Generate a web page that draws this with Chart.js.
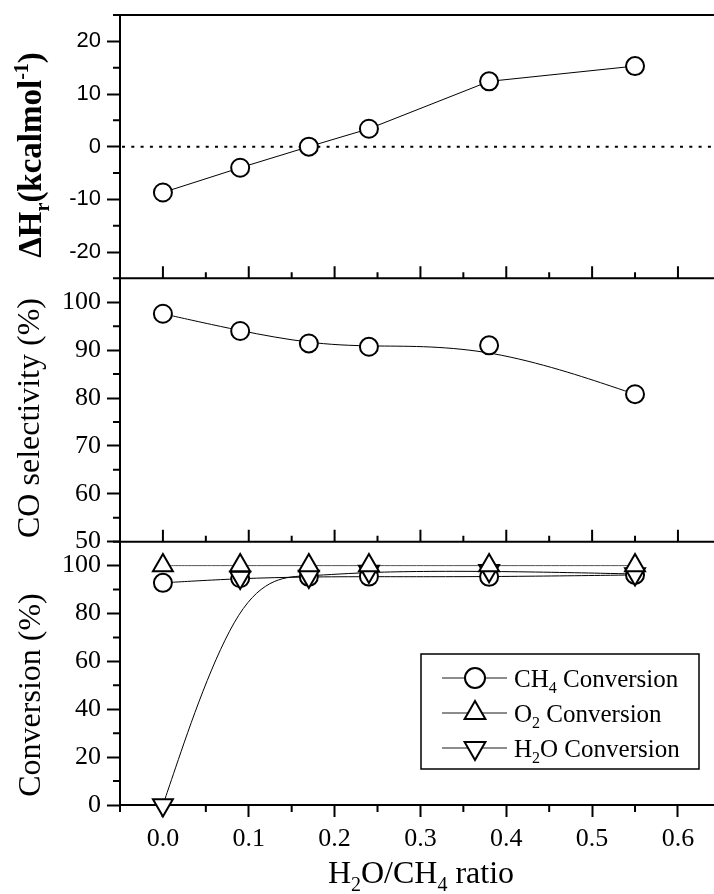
<!DOCTYPE html>
<html>
<head>
<meta charset="utf-8">
<script src="https://cdn.jsdelivr.net/npm/chart.js@4.4.1/dist/chart.umd.min.js"></script>
<style>
  html, body { margin: 0; padding: 0; background: #fff; overflow: hidden; }
</style>
</head>
<body>
<canvas id="myChart" width="714" height="894"></canvas>
<script>
// H2O/CH4 feed ratio
const ratios = [0.0, 0.09, 0.17, 0.24, 0.38, 0.55]

// reaction enthalpy (kcal/mol)
const deltaH = [-8.7, -4.0, 0.0, 3.4, 12.4, 15.3]
// CO selectivity (%)
const coSelectivity = [97.6, 94.0, 91.4, 90.7, 91.0, 80.8]
// conversions (%)
const ch4Conversion = [92.8, 94.7, 95.3, 95.4, 95.3, 96.1]
const o2Conversion = [100, 100, 100, 100, 100, 100]
const h2oConversion = [0, 95.0, 95.5, 97.5, 97.8, 96.5]

// tick labels
const ratioTicks = [0.0, 0.1, 0.2, 0.3, 0.4, 0.5, 0.6]
const deltaHTicks = [-20, -10, 0, 10, 20]
const selectivityTicks = [50, 60, 70, 80, 90, 100]
const conversionTicks = [0, 20, 40, 60, 80, 100]

const SERIF = "'Liberation Serif', 'Times New Roman', serif"
const SANS = "'Liberation Sans', Arial, sans-serif"

const pts = ys => ys.map((y, i) => ({ x: ratios[i], y }))

// minor tick spacing per scale
const minorStep = { x: 0.05, yH: 5, ySel: 5, yConv: 10 }

// uniform cubic B-spline with the data points as control points
function bspline(ctx, p) {
    const n = p.length
    const q = [p[0], p[0], ...p, p[n - 1], p[n - 1]]
    ctx.beginPath()
    ctx.moveTo(p[0].x, p[0].y)
    for (let j = 0; j + 3 < q.length; j++) {
        const b = q[j + 1], c = q[j + 2], d = q[j + 3]
        ctx.bezierCurveTo(
            (2 * b.x + c.x) / 3, (2 * b.y + c.y) / 3,
            (b.x + 2 * c.x) / 3, (b.y + 2 * c.y) / 3,
            (b.x + 4 * c.x + d.x) / 6, (b.y + 4 * c.y + d.y) / 6)
    }
    ctx.stroke()
}

// text with sub/superscripts
function drawRich(ctx, parts, x, y, size, weight, align) {
    const fontOf = s => `${weight} ${s ? Math.round(size * 0.62) : size}px ${SERIF}`
    let w = 0
    parts.forEach(p => { ctx.font = fontOf(p.s); w += ctx.measureText(p.t).width })
    let cx = align === 'center' ? x - w / 2 : x
    ctx.textAlign = 'left'
    ctx.textBaseline = 'alphabetic'
    ctx.fillStyle = '#000'
    parts.forEach(p => {
        ctx.font = fontOf(p.s)
        const dy = p.s === 'sub' ? size * 0.24 : p.s === 'sup' ? -size * 0.4 : 0
        ctx.fillText(p.t, cx, y + dy)
        cx += ctx.measureText(p.t).width
    })
}

// "CH4 Conversion" -> CH, sub 4, " Conversion"
function chemParts(str) {
    return str.split(/(?<=[A-Z])(\d)/).map((t, i) => ({ t, s: i % 2 ? 'sub' : 0 }))
}

function vTitle(ctx, parts, x, y, size, weight) {
    ctx.save()
    ctx.translate(x, y)
    ctx.rotate(-Math.PI / 2)
    drawRich(ctx, parts, 0, 0, size, weight, 'center')
    ctx.restore()
}

function steps(min, max, step) {
    const out = []
    for (let k = 0; ; k++) {
        const v = Math.round((min + k * step) * 1e6) / 1e6
        if (v > max + 1e-9) break
        out.push(v)
    }
    return out
}

const frame = {
    id: 'frame',
    beforeDatasetsDraw(chart) {
        const ctx = chart.ctx
        const { left, right } = chart.chartArea
        // dotted zero line of the enthalpy panel
        const y0 = chart.scales.yH.getPixelForValue(0)
        ctx.save()
        ctx.strokeStyle = '#000'
        ctx.lineWidth = 2
        ctx.setLineDash([3, 6.3])
        ctx.beginPath()
        ctx.moveTo(left + 2, y0)
        ctx.lineTo(right, y0)
        ctx.stroke()
        ctx.restore()

        chart.data.datasets.forEach((ds, i) => {
            if (!ds.spline) return
            const meta = chart.getDatasetMeta(i)
            ctx.save()
            ctx.strokeStyle = ds.lineColor
            ctx.lineWidth = 1
            bspline(ctx, meta.data.map(e => ({ x: e.x, y: e.y })))
            ctx.restore()
        })
    },
    afterDraw(chart) {
        const ctx = chart.ctx
        const { left, right, top, bottom } = chart.chartArea
        const sx = chart.scales.x
        ctx.save()
        ctx.strokeStyle = '#000'
        ctx.lineWidth = 2

        // top border and panel separators
        const seps = [top, chart.scales.yH.bottom, chart.scales.ySel.bottom]
        ctx.beginPath()
        seps.forEach(y => { ctx.moveTo(left - 1, y); ctx.lineTo(right, y) })
        ctx.stroke()

        // minor ticks on the three y axes
        ctx.beginPath()
        ;[['yH', deltaHTicks], ['ySel', selectivityTicks], ['yConv', conversionTicks]].forEach(([id, major]) => {
            const s = chart.scales[id]
            steps(s.min, s.max, minorStep[id]).forEach(v => {
                if (major.includes(v)) return
                const y = s.getPixelForValue(v)
                ctx.moveTo(left - 7, y)
                ctx.lineTo(left, y)
            })
        })

        // x ticks: inward on the separators, outward minors at the bottom
        steps(sx.min, sx.max, minorStep.x).forEach(v => {
            const x = sx.getPixelForValue(v)
            const isMajor = ratioTicks.some(t => Math.abs(t - v) < 1e-6)
            const len = isMajor ? 12 : 6
            seps.slice(1).forEach(y => { ctx.moveTo(x, y); ctx.lineTo(x, y - len) })
            if (!isMajor) { ctx.moveTo(x, bottom); ctx.lineTo(x, bottom + 7) }
        })
        ctx.stroke()
        ctx.restore()

        // axis titles
        vTitle(ctx, [{ t: 'ΔH' }, { t: 'r', s: 'sub' }, { t: '(kcalmol' }, { t: '-1', s: 'sup' }, { t: ')' }], 41, 155, 33, 'bold')
        vTitle(ctx, [{ t: 'CO selectivity (%)' }], 39, 418, 32, 'normal')
        vTitle(ctx, [{ t: 'Conversion (%)' }], 40, 695, 32, 'normal')
        drawRich(ctx, [{ t: 'H' }, { t: '2', s: 'sub' }, { t: 'O/CH' }, { t: '4', s: 'sub' }, { t: ' ratio' }], 421, 883, 32, 'normal', 'center')

        // legend of the conversion panel
        const box = { x: 421, y: 654, w: 278, h: 115 }
        ctx.save()
        ctx.strokeStyle = '#000'
        ctx.lineWidth = 1.5
        ctx.strokeRect(box.x, box.y, box.w, box.h)
        const rows = chart.data.datasets.filter(ds => ds.yAxisID === 'yConv')
            .sort((a, b) => a.legendRow - b.legendRow)
        rows.forEach((ds, i) => {
            const cy = box.y + 24 + i * 35
            ctx.strokeStyle = '#666'
            ctx.lineWidth = 1.5
            ctx.beginPath()
            ctx.moveTo(box.x + 21, cy)
            ctx.lineTo(box.x + 86, cy)
            ctx.stroke()
            ctx.fillStyle = '#fff'
            ctx.strokeStyle = '#000'
            ctx.lineWidth = 2
            Chart.helpers.drawPoint(ctx, {
                pointStyle: ds.pointStyle,
                rotation: ds.pointRotation || 0,
                radius: ds.pointStyle === 'circle' ? 10 : 12,
                borderWidth: 2
            }, box.x + 54, cy)
            drawRich(ctx, chemParts(ds.label), box.x + 93, cy + 9, 25, 'normal', 'left')
        })
        ctx.restore()
    }
}

const marker = {
    borderColor: '#000',
    borderWidth: 1,
    pointBackgroundColor: '#fff',
    pointBorderColor: '#000',
    pointBorderWidth: 2,
    pointHoverRadius: 9,
    clip: false
}

const noPad = s => { s.paddingLeft = 0; s.paddingRight = 0; s.paddingTop = 0; s.paddingBottom = 0 }

const yScale = (ticks, min, max, weight, font) => ({
    type: 'linear',
    position: 'left',
    stack: 'panels',
    stackWeight: 1,
    weight,
    min,
    max,
    afterBuildTicks: s => { s.ticks = ticks.map(v => ({ value: v })) },
    afterFit: s => { s.width = 120; noPad(s) },
    ticks: { autoSkip: false, color: '#000', padding: 6, font },
    grid: { drawOnChartArea: false, tickLength: 13, tickWidth: 2, tickColor: '#000' },
    border: { color: '#000', width: 2 }
})

const ctx = document.getElementById('myChart')
new Chart(ctx, {
    type: 'line',
    data: {
        datasets: [
            { ...marker, label: 'ΔHr', yAxisID: 'yH', data: pts(deltaH), pointStyle: 'circle', pointRadius: 9 },
            { ...marker, label: 'CO selectivity', yAxisID: 'ySel', data: pts(coSelectivity), pointStyle: 'circle', pointRadius: 9,
              showLine: false, spline: true, lineColor: '#000' },
            { ...marker, label: 'O2 Conversion', yAxisID: 'yConv', data: pts(o2Conversion), pointStyle: 'triangle', pointRadius: 11.5,
              showLine: false, spline: true, lineColor: '#555', order: 1, legendRow: 1 },
            { ...marker, label: 'H2O Conversion', yAxisID: 'yConv', data: pts(h2oConversion), pointStyle: 'triangle', pointRotation: 180, pointRadius: 11.5,
              showLine: false, spline: true, lineColor: '#000', order: 2, legendRow: 2 },
            { ...marker, label: 'CH4 Conversion', yAxisID: 'yConv', data: pts(ch4Conversion), pointStyle: 'circle', pointRadius: 9,
              showLine: false, spline: true, lineColor: '#000', order: 3, legendRow: 0 }
        ]
    },
    options: {
        responsive: false,
        animation: false,
        layout: { autoPadding: false, padding: { top: 15, left: 0, right: 0, bottom: 0 } },
        plugins: { legend: { display: false }, tooltip: { enabled: false } },
        scales: {
            x: {
                type: 'linear',
                min: -0.05,
                max: 0.642,
                afterBuildTicks: s => { s.ticks = ratioTicks.map(v => ({ value: v })) },
                afterFit: s => { s.height = 89; noPad(s) },
                ticks: { autoSkip: false, maxRotation: 0, color: '#000', padding: 7,
                         font: { family: SERIF, size: 26 }, callback: v => v.toFixed(1) },
                grid: { drawOnChartArea: false, tickLength: 12, tickWidth: 2, tickColor: '#000' },
                border: { color: '#000', width: 2 }
            },
            yH: yScale(deltaHTicks, -25, 25, 3, { family: SANS, size: 22 }),
            ySel: yScale(selectivityTicks, 50, 105, 2, { family: SERIF, size: 26 }),
            yConv: yScale(conversionTicks, 0, 110, 1, { family: SERIF, size: 26 })
        }
    },
    plugins: [frame]
})
</script>
</body>
</html>
